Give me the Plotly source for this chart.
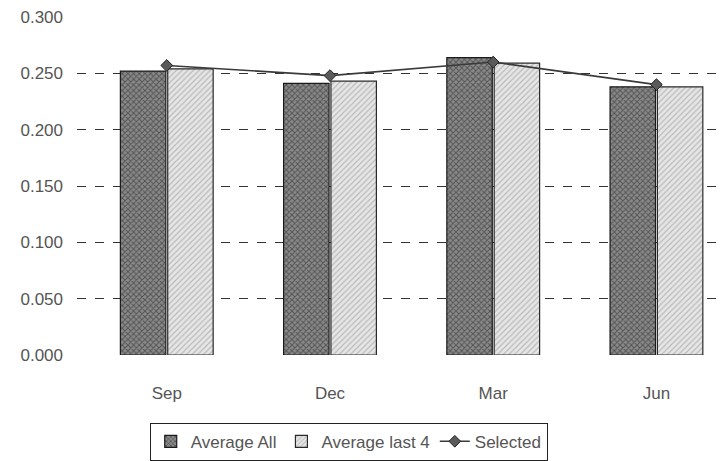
import plotly.graph_objects as go

categories = ["Sep", "Dec", "Mar", "Jun"]
average_all = [0.252, 0.241, 0.264, 0.238]
average_last4 = [0.254, 0.243, 0.259, 0.238]
selected = [0.257, 0.248, 0.260, 0.240]
y_ticks = [0.0, 0.05, 0.10, 0.15, 0.20, 0.25, 0.30]

font = "Liberation Sans, Arial, sans-serif"

fig = go.Figure()
fig.add_trace(go.Bar(
    x=categories, y=average_all, name="Average All",
    marker=dict(color="#5a5a5a", line=dict(color="#1a1a1a", width=1.2),
                pattern=dict(shape="x", fgcolor="#1e1e1e", bgcolor="#8a8a8a", size=4, solidity=0.45)),
))
fig.add_trace(go.Bar(
    x=categories, y=average_last4, name="Average last 4",
    marker=dict(color="#d0d0d0", line=dict(color="#2a2a2a", width=1.2),
                pattern=dict(shape="/", fgcolor="#8c8c8c", bgcolor="#e6e6e6", size=4, solidity=0.3)),
))
fig.add_trace(go.Scatter(
    x=categories, y=selected, name="Selected", mode="lines+markers",
    line=dict(color="#3a3a3a", width=1.6),
    marker=dict(symbol="diamond", size=9, color="#5a5a5a", line=dict(color="#222", width=1)),
))

fig.update_layout(
    width=725, height=461,
    margin=dict(l=77, r=0, t=17, b=106),
    paper_bgcolor="white", plot_bgcolor="white",
    font=dict(family=font, size=17, color="#555"),
    barmode="group", bargap=0.42, bargroupgap=0.04,
    showlegend=True,
    legend=dict(orientation="h", xref="container", yref="container",
                x=0.481, xanchor="center", y=0.083, yanchor="top",
                bordercolor="#222", borderwidth=1, bgcolor="white",
                font=dict(size=17, color="#555"), itemwidth=30,
                tracegroupgap=0, traceorder="normal"),
    xaxis=dict(range=[-0.55, 3.42], showgrid=False, showline=False, zeroline=False,
               ticks="", ticklabelstandoff=26, tickfont=dict(size=17, color="#555")),
    yaxis=dict(range=[0, 0.3], tickvals=y_ticks, tickformat=".3f",
               showgrid=True, gridcolor="#333", griddash="dash", gridwidth=1,
               zeroline=False, showline=False, ticks="",
               ticklabelstandoff=13, tickfont=dict(size=17, color="#555")),
)

fig.write_html("out.html")
